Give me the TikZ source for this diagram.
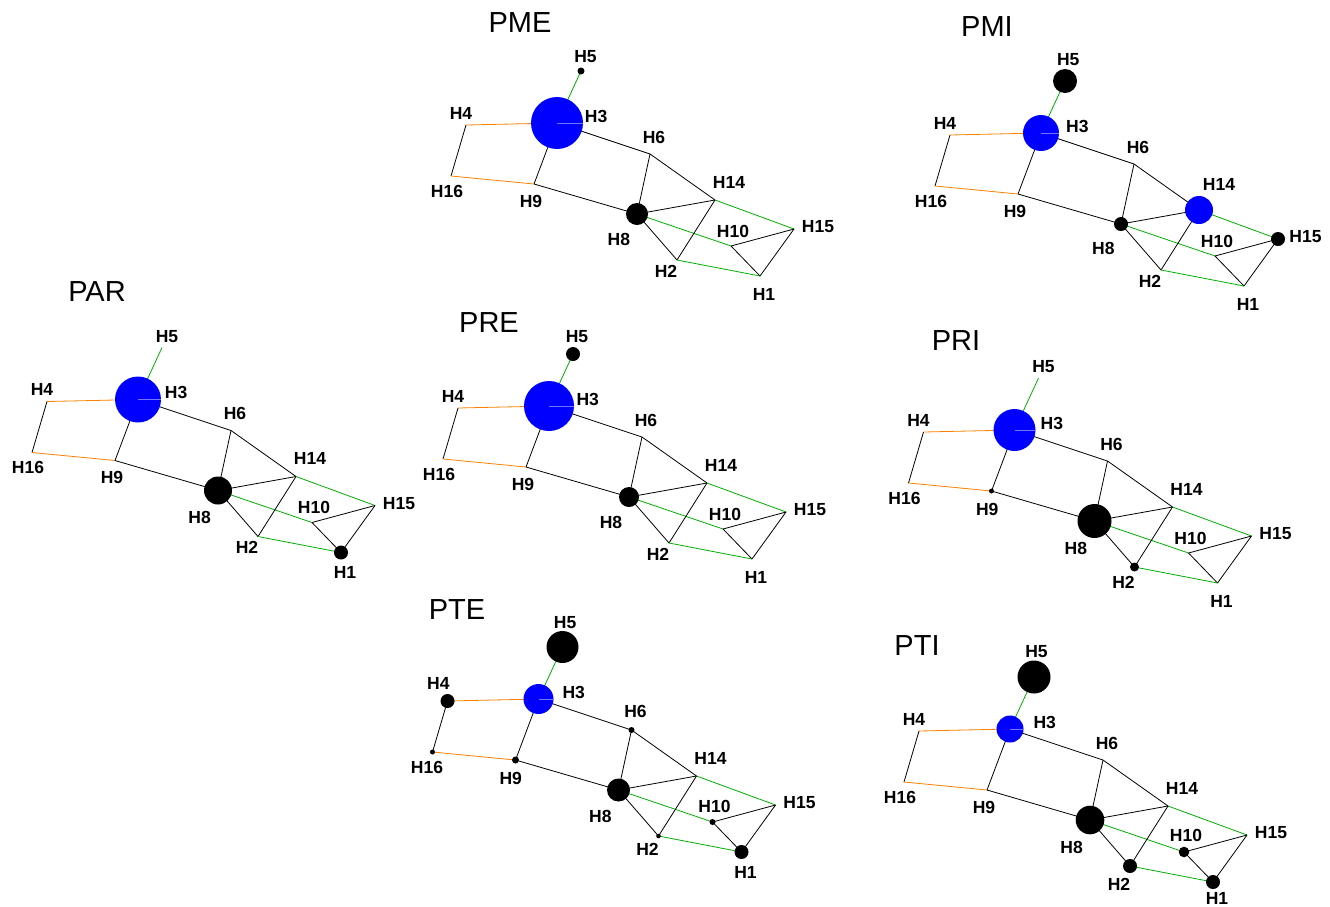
\documentclass[tikz,border=0pt]{standalone}
\usepackage{fontspec}
\setmainfont{Liberation Sans}
\usetikzlibrary{calc}
\pgfdeclarelayer{back}
\pgfdeclarelayer{bonds}
\pgfsetlayers{back,bonds,main}
\definecolor{bondgreen}{RGB}{0,175,0}
\definecolor{bondorange}{RGB}{255,128,0}
\definecolor{atomblue}{RGB}{0,0,255}
\tikzset{
  bond/.style={line width=0.8pt, draw=black},
  gbond/.style={line width=0.8pt, draw=bondgreen},
  obond/.style={line width=0.8pt, draw=bondorange},
  atom/.style={circle, inner sep=0pt, outer sep=0pt, draw=none},
  atomlabel/.style={font=\bfseries\fontsize{17.5}{18}\selectfont, inner sep=0pt},
  paneltitle/.style={font=\fontsize{29}{30}\selectfont, inner sep=0pt},
}
\pgfkeys{/mol/.is family, /mol/.cd,
  H1/.initial=0, H2/.initial=0, H3/.initial=0, H4/.initial=0, H5/.initial=0,
  H6/.initial=0, H8/.initial=0, H9/.initial=0, H10/.initial=0, H14/.initial=0,
  H15/.initial=0, H16/.initial=0,
  H1c/.initial=black, H2c/.initial=black, H3c/.initial=atomblue, H4c/.initial=black,
  H5c/.initial=black, H6c/.initial=black, H8c/.initial=black, H9c/.initial=black,
  H10c/.initial=black, H14c/.initial=black, H15c/.initial=black, H16c/.initial=black,
  H1s/.initial=0, H2s/.initial=0, H3s/.initial=0, H4s/.initial=0, H5s/.initial=0,
  H6s/.initial=0, H8s/.initial=0, H9s/.initial=0, H10s/.initial=0, H14s/.initial=0,
  H15s/.initial=0, H16s/.initial=0}
\newcommand\molpanel[5]{%
  \pgfkeys{/mol/.cd, H1=0,H2=0,H3=0,H4=0,H5=0,H6=0,H8=0,H9=0,H10=0,H14=0,H15=0,H16=0,H14c=black,
    H1s=0,H2s=0,H3s=0,H4s=0,H5s=0,H6s=0,H8s=0,H9s=0,H10s=0,H14s=0,H15s=0,H16s=0,#5}%
  \node[paneltitle] (#1-title) at #4 {#1};
  \foreach \a/\x/\y/\lx/\ly/\dx/\dy in {
      H3/0/0/30/-7/0.35/0,
      H5/24/-52/5/-11/-0.15/-0.85,
      H4/-91/2/-5/-12/-0.6/-0.8,
      H16/-106/53/-4/15/-0.6/0.3,
      H9/-23/61/-3/17/-0.5/0.4,
      H6/93/31/4/-17/0/-0.5,
      H8/80/91/-17/22/-0.1/0.35,
      H14/158/77/14/-18/0.43/-0.57,
      H15/237/106/24/-2/0.5/0,
      H10/174/123/2/-15/0/-0.3,
      H2/120/137/-11/11/0/1,
      H1/203/153/4/18/0/0.3}{%
    \pgfmathsetmacro\rad{\pgfkeysvalueof{/mol/\a}}%
    \pgfmathsetmacro\dia{2*\rad}%
    \pgfmathsetmacro\op{\rad>0 ? 1 : 0}%
    \pgfmathsetmacro\px{#2+\x}%
    \pgfmathsetmacro\py{#3+\y}%
    \pgfmathsetmacro\qx{\px+\lx+\dx*\rad}%
    \pgfmathsetmacro\qy{\py+\ly+\dy*\rad+\pgfkeysvalueof{/mol/\a s}}%
    \edef\col{\pgfkeysvalueof{/mol/\a c}}%
    \node[atom, minimum size=\dia pt, fill=\col, fill opacity=\op] (#1-\a) at (\px,\py) {};
    \node[atomlabel] (#1-\a-lab) at (\qx,\qy) {\a};
  }
  \draw[line width=0.8pt, atomblue!55!white] (#1-H3.center) -- (#1-H3.east);
  \begin{pgfonlayer}{bonds}
    \draw[gbond] (#1-H3.center) -- (#1-H5.center);
    \draw[obond] (#1-H3.center) -- (#1-H4.center);
    \draw[bond]  (#1-H4.center) -- (#1-H16.center);
    \draw[obond] (#1-H16.center) -- (#1-H9.center);
    \draw[bond]  (#1-H9.center) -- (#1-H3.center);
    \draw[bond]  (#1-H3.center) -- (#1-H6.center);
    \draw[bond]  (#1-H9.center) -- (#1-H8.center);
    \draw[bond]  (#1-H6.center) -- (#1-H8.center);
    \draw[bond]  (#1-H6.center) -- (#1-H14.center);
    \draw[bond]  (#1-H8.center) -- (#1-H14.center);
    \draw[gbond] (#1-H8.center) -- (#1-H10.center);
    \draw[bond]  (#1-H8.center) -- (#1-H2.center);
    \draw[gbond] (#1-H14.center) -- (#1-H15.center);
    \draw[bond]  (#1-H14.center) -- (#1-H2.center);
    \draw[bond]  (#1-H10.center) -- (#1-H15.center);
    \draw[bond]  (#1-H10.center) -- (#1-H1.center);
    \draw[bond]  (#1-H15.center) -- (#1-H1.center);
    \draw[gbond] (#1-H2.center) -- (#1-H1.center);
  \end{pgfonlayer}
}
\begin{document}
\begin{tikzpicture}[x=1pt, y=-1pt]
  \begin{pgfonlayer}{back}
    \fill[white] (0,0) rectangle (1330,906);
  \end{pgfonlayer}
  \useasboundingbox (0,0) rectangle (1330,906);
  \molpanel{PAR}{138}{399.5}{(97,292)}{H3=23,H8=14,H1=7}
  \molpanel{PME}{557}{123}{(520,23)}{H3=26,H5=3.5,H8=11}
  \molpanel{PMI}{1041}{133}{(987,27)}{H3=18,H5=12,H8=7,H14=14,H14c=atomblue,H15=7}
  \molpanel{PRE}{549}{406}{(489,323)}{H3=25,H5=7,H8=10}
  \molpanel{PRI}{1014.5}{430}{(956,341)}{H3=21,H9=2.5,H8=17,H2=4.5}
  \molpanel{PTE}{538.5}{699}{(457,610)}{H3=15,H5=16,H4=7,H16=2.5,H9=3.5,H6=3,H8=11.5,H10=3,H2=2.3,H1=7}
  \molpanel{PTI}{1010}{729}{(917,646)}{H3=13.5,H5=16.5,H8=14.3,H10=5.3,H2=7,H1=7,H1s=-4}
\end{tikzpicture}
\end{document}
